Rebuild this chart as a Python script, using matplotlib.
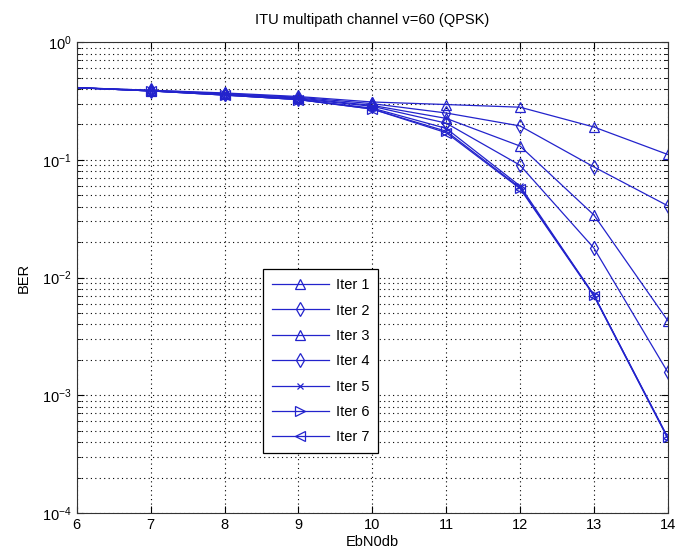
import numpy as np
import matplotlib
matplotlib.use("Agg")
import matplotlib.pyplot as plt
from matplotlib.ticker import LogLocator, NullFormatter

plt.rcParams["font.family"] = ["Liberation Sans", "DejaVu Sans"]

# Eb/N0 grid (dB)
ebn0 = [6, 7, 8, 9, 10, 11, 12, 13, 14]

# BER per decoding iteration
iter1 = [0.41, 0.39, 0.37, 0.345, 0.31, 0.295, 0.28, 0.19, 0.111]
iter2 = [0.41, 0.39, 0.365, 0.34, 0.30, 0.25, 0.194, 0.087, 0.0407]
iter3 = [0.41, 0.385, 0.36, 0.335, 0.29, 0.225, 0.131, 0.034, 0.0043]
iter4 = [0.41, 0.385, 0.36, 0.33, 0.285, 0.205, 0.090, 0.0178, 0.00157]
iter5 = [0.41, 0.385, 0.355, 0.325, 0.275, 0.185, 0.060, 0.0071, 0.000435]
iter6 = [0.41, 0.385, 0.355, 0.325, 0.27, 0.175, 0.058, 0.0071, 0.00044]
iter7 = [0.41, 0.385, 0.355, 0.325, 0.27, 0.17, 0.057, 0.0070, 0.00043]

labels = ["Iter 1", "Iter 2", "Iter 3", "Iter 4", "Iter 5", "Iter 6", "Iter 7"]
series = [iter1, iter2, iter3, iter4, iter5, iter6, iter7]
markers = ["^", "d", "^", "d", "x", ">", "<"]
sizes = [7, 7, 7, 7, 4.5, 7, 7]

blue = "#2323cc"

fig = plt.figure(figsize=(6.92, 5.52), dpi=100)
ax = fig.add_axes([0.111, 0.0707, 0.854, 0.853])

for ys, lab, m, ms in zip(series, labels, markers, sizes):
    ax.semilogy(ebn0, ys, color=blue, lw=0.9, marker=m, ms=ms,
                mfc="none", mec=blue, mew=0.9, label=lab,
                markevery=slice(1, None))

ax.set_xlim(6, 14)
ax.set_ylim(1e-4, 1)
ax.set_xticks(range(6, 15))
ax.yaxis.set_major_locator(LogLocator(base=10, numticks=10))
ax.yaxis.set_minor_locator(LogLocator(base=10, subs=np.arange(2, 10), numticks=10))
ax.yaxis.set_minor_formatter(NullFormatter())

ax.grid(True, which="major", axis="both", color="black", ls=(0, (1, 3)), lw=0.8)
ax.grid(True, which="minor", axis="y", color="black", ls=(0, (1, 3)), lw=0.8)

ax.tick_params(which="both", direction="in", top=True, right=True, labelsize=10.5)
ax.tick_params(which="major", length=5)
ax.tick_params(which="minor", length=3)
for s in ax.spines.values():
    s.set_color("#333333")

ax.set_title("ITU multipath channel v=60 (QPSK)", fontsize=10.5, pad=13)
ax.set_xlabel("EbN0db", fontsize=10.5, labelpad=2)
ax.set_ylabel("BER", fontsize=10.5, labelpad=8)

leg = ax.legend(loc="lower left", bbox_to_anchor=(0.315, 0.127), borderaxespad=0,
                fontsize=10.5, fancybox=False, framealpha=1, edgecolor="black",
                handlelength=3.9, handletextpad=0.5, labelspacing=0.78,
                borderpad=0.6)
leg.get_frame().set_linewidth(0.9)

fig.savefig("out.png", dpi=100)
